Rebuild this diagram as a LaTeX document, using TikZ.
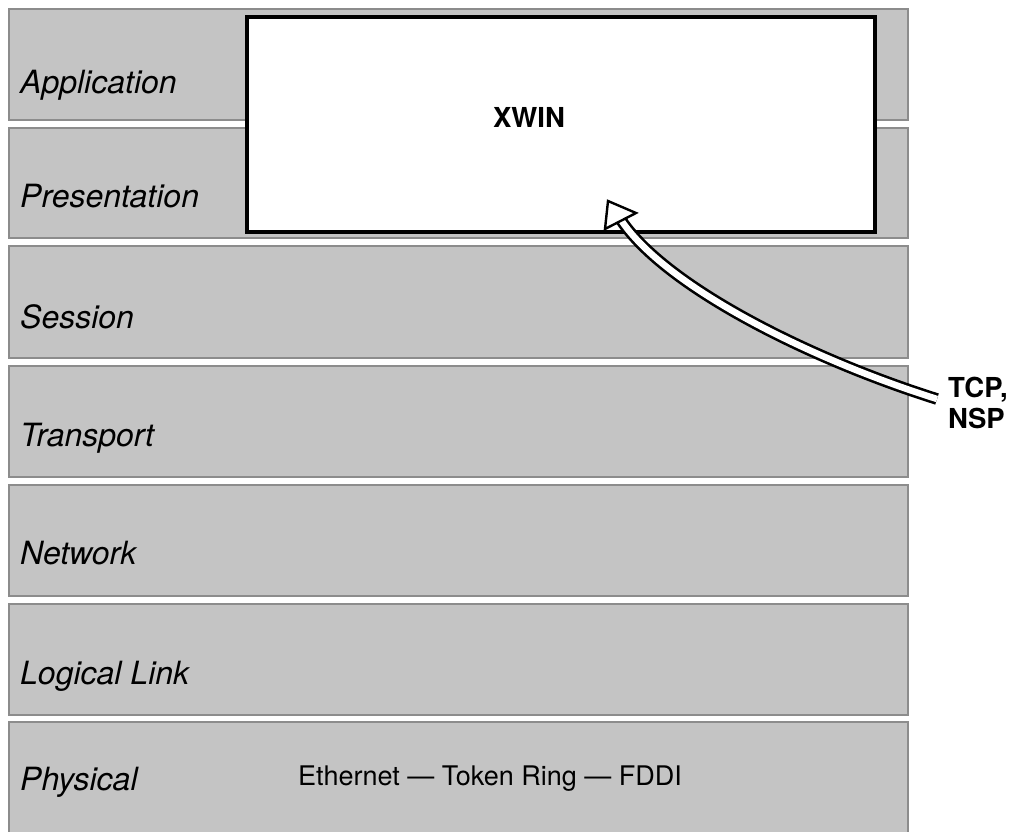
\documentclass[tikz,border=0pt]{standalone}
\usepackage{fontspec}
\setmainfont{TeX Gyre Heros}
\begin{document}
\begin{tikzpicture}[x=1pt,y=-1pt,
  layerband/.style={fill=bandgray,draw=bandedge,line width=2.5pt},
  layerlabel/.style={anchor=base west,inner sep=0pt,font=\fontsize{32}{37}\selectfont\itshape},
  protobox/.style={draw=black,fill=white,line width=4pt},
  boldlabel/.style={inner sep=0pt,font=\fontsize{27.5}{31}\selectfont\bfseries},
  plainlabel/.style={anchor=base west,inner sep=0pt,font=\fontsize{27}{31}\selectfont}]
\definecolor{bandgray}{RGB}{196,196,196}
\definecolor{bandedge}{RGB}{140,140,140}
\useasboundingbox[fill=white] (0,0) rectangle (1022,831);

% protocol layers
\draw[layerband] (9,9)   rectangle (908,120);
\draw[layerband] (9,128) rectangle (908,238);
\draw[layerband] (9,246) rectangle (908,358);
\draw[layerband] (9,366) rectangle (908,477);
\draw[layerband] (9,485) rectangle (908,596);
\draw[layerband] (9,604) rectangle (908,715);
\draw[layerband] (9,722) rectangle (908,834);

\node[layerlabel] (app)  at (20,93)  {Application};
\node[layerlabel] (pres) at (20,207) {Presentation};
\node[layerlabel] (sess) at (20,328) {Session};
\node[layerlabel] (trans) at (20,446) {Transport};
\node[layerlabel] (net)  at (20,564) {Network};
\node[layerlabel] (llc)  at (20,684) {Logical Link};
\node[layerlabel] (phys) at (20,790) {Physical};

% XWIN spans application and presentation
\draw[protobox] (247,17) rectangle (875,232);
\node[boldlabel,anchor=base] (xwin) at (529,127) {XWIN};

% physical media
\node[plainlabel] (media) at (298,785) {Ethernet — Token Ring — FDDI};

% transport protocols
\node[boldlabel,align=left,anchor=north west] (tcp) at (948,377) {TCP,\\NSP};

% hollow arrow from the transport protocols into XWIN
\coordinate (tail) at (937,399);
\coordinate (base) at (621,220);
\draw[line width=2.6pt,double=white,double distance=6.5pt,line cap=butt]
  (tail) .. controls (807,358) and (665,286) .. (base);
\draw[fill=white,line width=2.4pt,line join=miter] (608,201) -- (636,213) -- (605,229) -- cycle;
\end{tikzpicture}
\end{document}
